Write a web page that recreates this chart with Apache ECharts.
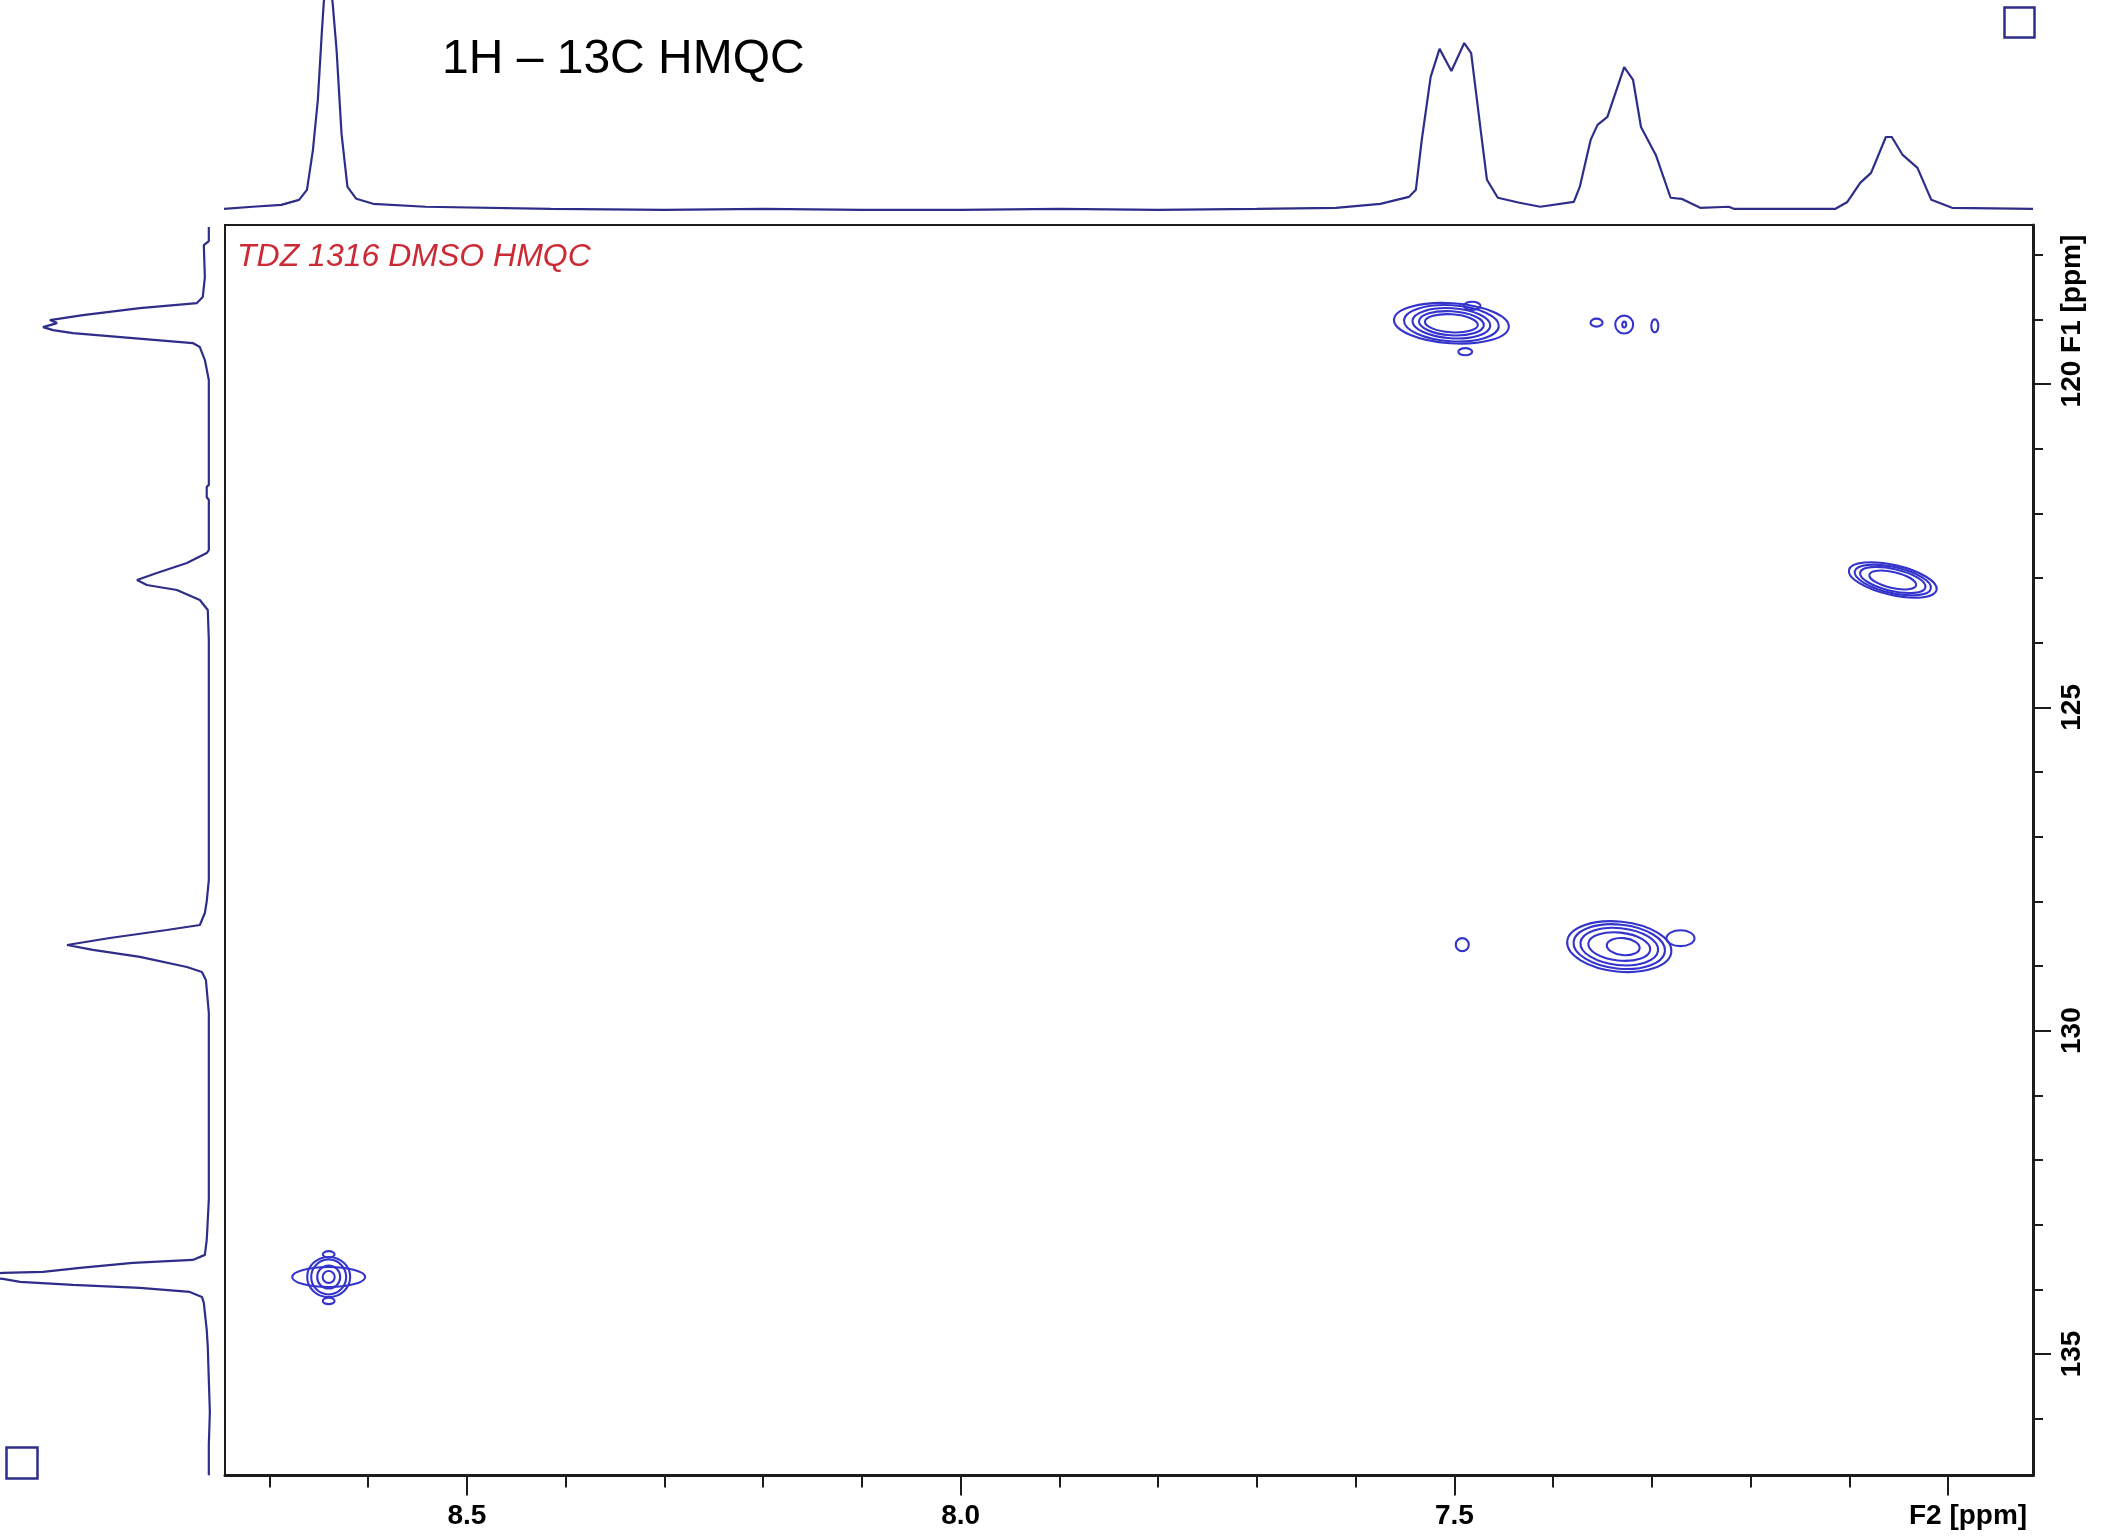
<!DOCTYPE html>
<html><head><meta charset="utf-8">
<script src="https://cdn.jsdelivr.net/npm/echarts@6/dist/echarts.min.js"></script>
<style>html,body{margin:0;padding:0;background:#fff}#c{width:2101px;height:1536px}</style>
</head><body><div id="c"></div>
<script>
// ---- Axis ranges (ppm) ----
const F2_MIN = 6.914, F2_MAX = 8.745;      // 1H (F2), drawn inverted
const F1_MIN = 117.54, F1_MAX = 136.88;    // 13C (F1), drawn inverted

// ---- Tick values ----
const f2MajorTicks = [7.0, 7.5, 8.0, 8.5];
const f2MinorTicks = [7.0, 7.1, 7.2, 7.3, 7.4, 7.5, 7.6, 7.7, 7.8, 7.9, 8.0, 8.1, 8.2, 8.3, 8.4, 8.5, 8.6, 8.7];
const f1MajorTicks = [120, 125, 130, 135];
const f1MinorTicks = [118, 119, 120, 121, 122, 123, 124, 125, 126, 127, 128, 129, 130, 131, 132, 133, 134, 135, 136];

// ---- 1H projection (top): [ppm, intensity] ----
const f2Projection = [
  [8.746,0],[8.717,1.0],[8.688,1.9],[8.670,4.3],[8.662,9.1],[8.656,28],[8.651,52],[8.647,84],[8.645,98.6],
  [8.641,118],[8.636,98.6],[8.632,76],[8.627,36],[8.621,10.5],[8.612,4.8],[8.595,2.4],[8.542,1.0],[8.415,0],
  [8.30,-0.5],[8.20,0],[8.10,-0.5],[8.00,-0.5],[7.90,0],[7.80,-0.5],[7.70,0],[7.62,0.5],[7.575,2.4],
  [7.546,5.7],[7.539,9.1],[7.533,33.0],[7.524,63.2],[7.515,76.6],[7.503,66.0],[7.490,79.4],[7.483,74.6],
  [7.473,36.4],[7.467,13.9],[7.456,5.3],[7.434,2.9],[7.413,1.0],[7.379,3.3],[7.373,10.5],[7.362,33.0],
  [7.355,40.2],[7.345,44.0],[7.328,67.9],[7.319,61.7],[7.311,39.2],[7.296,25.8],[7.281,5.3],[7.270,4.8],
  [7.251,0.5],[7.222,1.0],[7.217,0],[7.114,0],[7.102,3.3],[7.089,12.4],[7.078,17.2],[7.063,34.4],
  [7.057,34.4],[7.046,25.8],[7.031,19.6],[7.017,4.3],[6.996,0.5],[6.914,0]
];

// ---- 13C projection (left): [ppm, intensity] ----
const f1Projection = [
  [117.572,0],[117.789,0],[117.851,2.4],[118.345,1.9],[118.655,2.9],[118.747,5.7],[118.825,33],[118.933,60.3],
  [119.010,76.1],[119.057,72.7],[119.119,79.4],[119.165,74.6],[119.211,65.1],[119.289,36.4],[119.366,7.7],
  [119.428,4.3],[119.629,1.9],[119.938,0],[121.56,0],[121.59,1],[121.75,1],[121.79,0],[122.567,0],[122.613,1],
  [122.768,10.5],[122.923,24.9],[123.031,34.4],[123.108,29.7],[123.185,15.3],[123.340,4.3],[123.495,0.5],
  [123.959,0],[127.67,0],[128.0,1],[128.180,1.9],[128.366,4.3],[128.443,20.1],[128.567,47.4],[128.675,67.9],
  [128.752,55.5],[128.860,33.0],[129.015,10.5],[129.092,3.3],[129.216,1.4],[129.726,0],[132.618,0],
  [133.237,1],[133.468,1.9],[133.546,7.7],[133.592,36.4],[133.669,61.7],[133.731,79.4],[133.747,98.6],
  [133.79,118],[133.840,98.6],[133.886,90.4],[133.933,65.1],[133.979,33.0],[134.041,9.1],[134.118,3.3],
  [134.211,2.4],[134.628,1.0],[134.891,0.5],[135.401,0],[135.9,-0.5],[136.4,0],[136.878,0]
];

// ---- HMQC contour rings: centre (F2, F1 ppm), extent (ppm) and tilt (dF1/dF2) ----
const contourF2 = [8.640,8.640,8.640,8.640,8.640,8.640,8.640,
  7.503,7.503,7.503,7.503,7.503,7.489,7.482,7.356,7.328,7.328,7.297,
  7.333,7.333,7.333,7.333,7.329,7.271,7.492,
  7.056,7.056,7.056,7.056];
const contourF1 = [133.81,133.81,133.81,133.81,133.81,133.46,134.18,
  119.06,119.06,119.06,119.06,119.06,119.50,118.79,119.05,119.08,119.08,119.10,
  128.70,128.70,128.70,128.70,128.70,128.57,128.67,
  123.03,123.03,123.03,123.03];
const contourWidthF2 = [0.0739,0.0435,0.0354,0.0233,0.0122,0.012,0.012,
  0.1165,0.0962,0.079,0.0658,0.0537,0.014,0.017,0.0122,0.0182,0.004,0.0071,
  0.106,0.093,0.079,0.063,0.0334,0.0284,0.0132,
  0.0911,0.079,0.0678,0.0486];
const contourWidthF1 = [0.309,0.62,0.54,0.356,0.186,0.10,0.10,
  0.62,0.557,0.464,0.371,0.278,0.11,0.124,0.124,0.278,0.09,0.201,
  0.773,0.68,0.572,0.433,0.263,0.247,0.201,
  0.464,0.402,0.340,0.247];
const contourTilt = [0,0,0,0,0,0,0,
  -1.0,-1.0,-1.0,-1.0,-1.0,0,0,0,0,0,0,
  -1.6,-1.6,-1.6,-1.6,-1.6,0,0,
  -3.5,-3.5,-3.5,-3.5];

const contourData = contourF2.map((v, i) => [v, contourF1[i], contourWidthF2[i], contourWidthF1[i], contourTilt[i]]);

const FONT = '"Liberation Sans", Arial, sans-serif';
const NAVY = '#2e2e8a';
const CONTOUR = '#3434cc';
const INK = '#1c1c1c';

const mctx = document.createElement('canvas').getContext('2d');
mctx.font = 'bold 28px ' + FONT;
const unitPad = mctx.measureText(' F1 [ppm]').width;

const chart = echarts.init(document.getElementById('c'), null, {renderer: 'canvas'});

const L = 225, T = 225, W = 1808, H = 1250.5;

chart.setOption({
  animation: false,
  backgroundColor: '#ffffff',
  grid: [
    {left: L, top: T, width: W, height: H, show: true, borderColor: INK, borderWidth: 2, backgroundColor: 'transparent'},
    {left: L, top: 0, width: W, height: 213},
    {left: 0, top: T, width: 213, height: H}
  ],
  xAxis: [
    {gridIndex: 0, type: 'value', min: F2_MIN, max: F2_MAX, inverse: true, position: 'bottom',
      axisLine: {show: true, onZero: false, lineStyle: {color: INK, width: 3}},
      axisTick: {show: true, customValues: f2MajorTicks, length: 20, lineStyle: {color: INK, width: 2}},
      axisLabel: {show: true, customValues: f2MajorTicks, margin: 27, color: '#000',
        fontFamily: FONT, fontWeight: 'bold', fontSize: 28,
        formatter: v => (Math.abs(v - 7.0) < 1e-6 ? '{u|F2 [ppm]}' : v.toFixed(1)),
        rich: {u: {fontFamily: FONT, fontWeight: 'bold', fontSize: 28, color: '#000', padding: [0, 0, 0, 40]}}},
      splitLine: {show: false}},
    {gridIndex: 0, type: 'value', min: F2_MIN, max: F2_MAX, inverse: true, position: 'bottom',
      axisLine: {show: false, onZero: false},
      axisTick: {show: true, customValues: f2MinorTicks, length: 12, lineStyle: {color: INK, width: 2}},
      axisLabel: {show: false}, splitLine: {show: false}},
    {gridIndex: 1, type: 'value', min: F2_MIN, max: F2_MAX, inverse: true, show: false},
    {gridIndex: 2, type: 'value', min: -2, max: 100, inverse: true, show: false}
  ],
  yAxis: [
    {gridIndex: 0, type: 'value', min: F1_MIN, max: F1_MAX, inverse: true, position: 'right',
      axisLine: {show: true, onZero: false, lineStyle: {color: INK, width: 3}},
      axisTick: {show: true, customValues: f1MajorTicks, length: 18, lineStyle: {color: INK, width: 2}},
      axisLabel: {show: true, customValues: f1MajorTicks, rotate: 90, margin: 25, color: '#000',
        fontFamily: FONT, fontWeight: 'bold', fontSize: 28,
        formatter: v => (v === 120 ? '{u|120 F1 [ppm]}' : String(v)),
        rich: {u: {fontFamily: FONT, fontWeight: 'bold', fontSize: 28, color: '#000', padding: [0, 0, 0, unitPad]}}},
      splitLine: {show: false}},
    {gridIndex: 0, type: 'value', min: F1_MIN, max: F1_MAX, inverse: true, position: 'right',
      axisLine: {show: false, onZero: false},
      axisTick: {show: true, customValues: f1MinorTicks, length: 10, lineStyle: {color: INK, width: 2}},
      axisLabel: {show: false}, splitLine: {show: false}},
    {gridIndex: 1, type: 'value', min: -2, max: 100, show: false},
    {gridIndex: 2, type: 'value', min: F1_MIN, max: F1_MAX, inverse: true, show: false}
  ],
  graphic: [
    {type: 'text', left: 442, top: 36, silent: true,
      style: {text: '1H \u2013 13C HMQC', font: 'normal 48px ' + FONT, fill: '#000'}},
    {type: 'text', left: 237, top: 241, silent: true,
      style: {text: 'TDZ 1316 DMSO HMQC', font: 'italic 32px ' + FONT, fill: '#cc2a35'}},
    {type: 'rect', left: 2002, top: 5, silent: true, shape: {width: 30, height: 30},
      style: {fill: 'none', stroke: NAVY, lineWidth: 2.5}},
    {type: 'rect', left: 4, top: 1445, silent: true, shape: {width: 31, height: 31},
      style: {fill: 'none', stroke: NAVY, lineWidth: 2.5}}
  ],
  series: [
    {type: 'line', xAxisIndex: 2, yAxisIndex: 2, data: f2Projection, showSymbol: false, symbol: 'none',
      clip: true, silent: true, lineStyle: {color: NAVY, width: 2.2}},
    {type: 'line', xAxisIndex: 3, yAxisIndex: 3, data: f1Projection.map(p => [p[1], p[0]]), showSymbol: false,
      symbol: 'none', clip: true, silent: true, lineStyle: {color: NAVY, width: 2.2}},
    {type: 'custom', xAxisIndex: 0, yAxisIndex: 0, data: contourData, clip: true, silent: true,
      encode: {x: 0, y: 1},
      renderItem: function (params, api) {
        const f2 = api.value(0), f1 = api.value(1), w = api.value(2), h = api.value(3), s = api.value(4);
        const c = api.coord([f2, f1]);
        const sz = api.size([w, h], [f2, f1]);
        const p1 = api.coord([f2 - 0.01, f1 - 0.01 * s]);
        const ang = Math.atan2(p1[1] - c[1], p1[0] - c[0]);
        return {
          type: 'ellipse', x: c[0], y: c[1], rotation: -ang,
          shape: {cx: 0, cy: 0, rx: sz[0] / 2, ry: sz[1] / 2},
          style: {fill: 'none', stroke: CONTOUR, lineWidth: 2.1}
        };
      }}
  ]
});
</script></body></html>
